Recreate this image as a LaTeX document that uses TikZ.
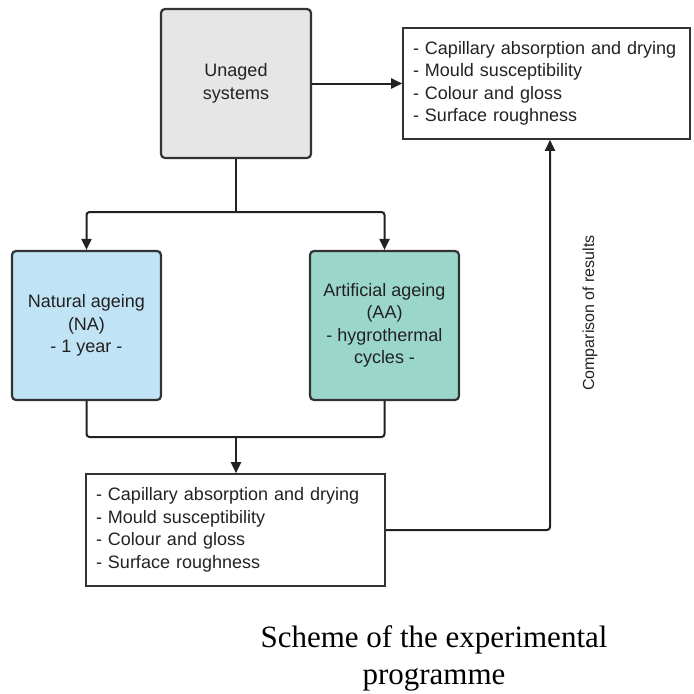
\documentclass[tikz,border=0pt]{standalone}
\usepackage{fontspec}
\setmainfont{Liberation Sans}
\newfontfamily\capfont{Liberation Serif}
\usetikzlibrary{arrows.meta}

\definecolor{unagedgray}{HTML}{E6E6E6}
\definecolor{nablue}{HTML}{C1E3F6}
\definecolor{aateal}{HTML}{9BD6CB}
\definecolor{edgegray}{HTML}{333333}
\definecolor{inkgray}{HTML}{222222}

\begin{document}
\begin{tikzpicture}[x=1pt, y=-1pt,
      line width=2pt, text=inkgray,
      main/.style = {draw=edgegray, line width=2.2pt, rounded corners=4pt, minimum width=149pt,
                     minimum height=149pt, align=center,
                     font=\fontsize{18}{22.5}\selectfont},
      result/.style = {draw=edgegray, line width=1.6pt, minimum height=111pt,
                       inner xsep=10pt, align=left,
                       font=\fontsize{18}{22.5}\selectfont},
      link/.style = {draw=inkgray, rounded corners=3pt},
      arr/.style = {link, -{Triangle[length=11pt, width=10pt]}}]
    \useasboundingbox (0,0) rectangle (694,694);

    % nodes
    \node[main, fill=unagedgray, minimum width=150pt] (unaged) at (236, 83.5) {Unaged\\systems};
    \node[main, fill=nablue] (na) at (86.5, 325.5) {Natural ageing\\(NA)\\- 1 year -};
    \node[main, fill=aateal] (aa) at (384.5, 325.5) {Artificial ageing\\(AA)\\- hygrothermal\\cycles -};

    \node[result, text width=267pt] (res1) at (546.5, 83.5)
      {- Capillary absorption and drying\\- Mould susceptibility\\- Colour and gloss\\- Surface roughness};
    \node[result, text width=279pt, minimum height=112pt] (res2) at (235.5, 530)
      {- Capillary absorption and drying\\- Mould susceptibility\\- Colour and gloss\\- Surface roughness};

    \node[rotate=90, font=\fontsize{16}{19}\selectfont] (cmp) at (590, 313) {Comparison of results};
    \node[font=\fontsize{31}{37}\selectfont\capfont, align=center, text=black] (caption) at (434, 658)
      {Scheme of the experimental\\programme};

    \coordinate (split) at (236, 212);
    \coordinate (merge) at (236, 437);

    % directed edges
    \draw[arr] (unaged.east) -- (res1.west);
    \draw[link] (unaged.south) -- (split);
    \draw[arr] (split) -| (na.north);
    \draw[arr] (split) -| (aa.north);
    \draw[link] (na.south) |- (merge);
    \draw[link] (aa.south) |- (merge);
    \draw[arr] (merge) -- (merge |- res2.north);
    \draw[arr] (res2.east) -| ([xshift=3.5pt]res1.south);

  \end{tikzpicture}
\end{document}
